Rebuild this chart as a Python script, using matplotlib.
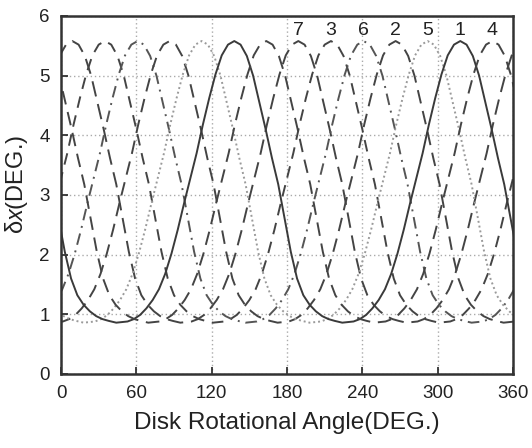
import numpy as np
import matplotlib
matplotlib.use("Agg")
import matplotlib.pyplot as plt

plt.rcParams['font.family'] = ['Liberation Sans', 'DejaVu Sans']
plt.rcParams['mathtext.fontset'] = 'custom'
plt.rcParams['mathtext.it'] = 'Liberation Sans:italic'
plt.rcParams['mathtext.rm'] = 'Liberation Sans'

# Shape of one lobe: angle relative to its peak (deg) -> value (deg)
lobe_angle = [-94, -85, -80, -75, -70, -65, -60, -55, -50, -45, -40, -35, -30, -25, -20,
              -15, -10, -5, 0, 5, 10, 15, 20, 25, 30, 35, 40, 45, 50, 55, 60, 65, 70,
              75, 80, 86]
lobe_value = [0.86, 0.88, 0.92, 0.99, 1.10, 1.24, 1.42, 1.68, 2.02, 2.42, 2.86, 3.28,
              3.70, 4.18, 4.62, 5.02, 5.34, 5.52, 5.58, 5.52, 5.33, 5.00, 4.55, 4.10,
              3.62, 3.18, 2.62, 2.05, 1.60, 1.32, 1.16, 1.05, 0.97, 0.92, 0.89, 0.86]
period = 180

# Curve labels and the angle of their peak (deg)
curve_labels = ['7', '3', '6', '2', '5', '1', '4']
peak_angles = [189, 215, 241, 266.5, 292, 318, 343.5]

styles = {
    '1': dict(ls='-', color='#3a3a3a', lw=1.4),
    '2': dict(ls=(0, (7, 4)), color='#444444', lw=1.4),
    '3': dict(ls=(0, (6, 4)), color='#444444', lw=1.4),
    '4': dict(ls=(0, (7, 4)), color='#444444', lw=1.4),
    '5': dict(ls=(0, (1, 1.5)), color='#9a9a9a', lw=1.4),
    '6': dict(ls=(0, (6, 3, 1, 3)), color='#555555', lw=1.4),
    '7': dict(ls=(0, (8, 4)), color='#444444', lw=1.4),
}

xticks = [0, 60, 120, 180, 240, 300, 360]
yticks = [0, 1, 2, 3, 4, 5, 6]

fig = plt.figure(figsize=(5.32, 4.48), dpi=100)
ax = fig.add_axes([0.1147, 0.1652, 0.8496, 0.7991])

lx = np.array(lobe_angle, dtype=float)
ly = np.array(lobe_value)

for lab, pk in zip(curve_labels, peak_angles):
    xs, ys = [], []
    for k in range(-3, 2):
        xs.append(lx + pk + k * period)
        ys.append(ly)
    ax.plot(np.concatenate(xs), np.concatenate(ys), **styles[lab])
    ax.text(pk, 5.76, lab, ha='center', va='center', fontsize=14, color='#222222')

ax.set_xlim(0, 360)
ax.set_ylim(0, 6)
ax.set_xticks(xticks)
ax.set_yticks(yticks)
ax.tick_params(direction='in', labelsize=13.5, length=5, width=1.2, colors='#222222', pad=8)
ax.grid(True, ls=(0, (1, 2)), color='#aaaaaa', lw=1.0)
for s in ax.spines.values():
    s.set_linewidth(1.8)
    s.set_color('#333333')

ax.set_xlabel('Disk Rotational Angle(DEG.)', fontsize=17.5, color='#222222', labelpad=7)
ax.set_ylabel(r'δ$\mathit{x}$(DEG.)', fontsize=17, color='#222222')
ax.yaxis.set_label_coords(-0.068, 0.53)

fig.savefig('out.png', dpi=100)
